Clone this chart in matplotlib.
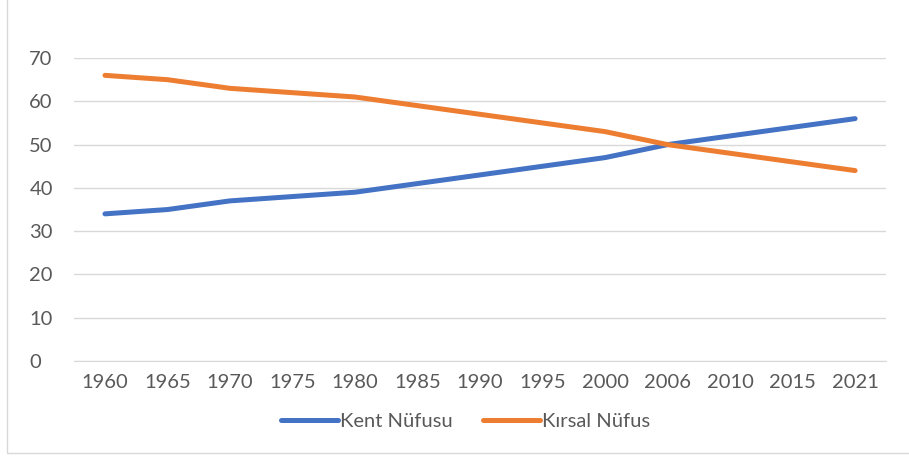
import matplotlib
matplotlib.use('Agg')
import matplotlib.pyplot as plt
from matplotlib.patches import Rectangle

# data
years = ['1960', '1965', '1970', '1975', '1980', '1985', '1990', '1995', '2000', '2006', '2010', '2015', '2021']
kent = [34, 35, 37, 38, 39, 41, 43, 45, 47, 50, 52, 54, 56]
kirsal = [66, 65, 63, 62, 61, 59, 57, 55, 53, 50, 48, 46, 44]
yticks = [0, 10, 20, 30, 40, 50, 60, 70]

plt.rcParams['font.family'] = ['Lato', 'DejaVu Sans']
fig = plt.figure(figsize=(9.09, 4.57), dpi=100)
ax = fig.add_axes([0.0811, 0.210, 0.894, 0.663])

x = list(range(len(years)))
ax.plot(x, kent, color='#4472C4', lw=3.6, solid_capstyle='round', label='Kent Nüfusu')
ax.plot(x, kirsal, color='#ED7D31', lw=3.6, solid_capstyle='round', label='Kırsal Nüfus')

ax.set_xlim(-0.5, len(years) - 0.5)
ax.set_ylim(0, 70)
ax.set_yticks(yticks)
ax.set_xticks(x)
ax.set_xticklabels(years)
ax.grid(axis='y', color='#D9D9D9', lw=1)
ax.set_axisbelow(True)
for s in ax.spines.values():
    s.set_visible(False)
ax.spines['bottom'].set_visible(True)
ax.spines['bottom'].set_color('#D9D9D9')
ax.tick_params(length=0, labelsize=14.5, colors='#595959', pad=9)
ax.tick_params(axis='y', pad=32)
for lbl in ax.get_yticklabels():
    lbl.set_horizontalalignment('left')

leg = ax.legend(loc='upper center', bbox_to_anchor=(0.482, -0.112), ncol=2, frameon=False,
                fontsize=14.5, handlelength=2.85, handletextpad=0.1, columnspacing=1.5)
for t in leg.get_texts():
    t.set_color('#595959')

# chart border like the office chart frame
fig.patches.append(Rectangle((0.008, 0.008), 1.2, 1.2, transform=fig.transFigure,
                             fill=False, edgecolor='#D9D9D9', lw=1))

fig.savefig('out.png', dpi=100)
